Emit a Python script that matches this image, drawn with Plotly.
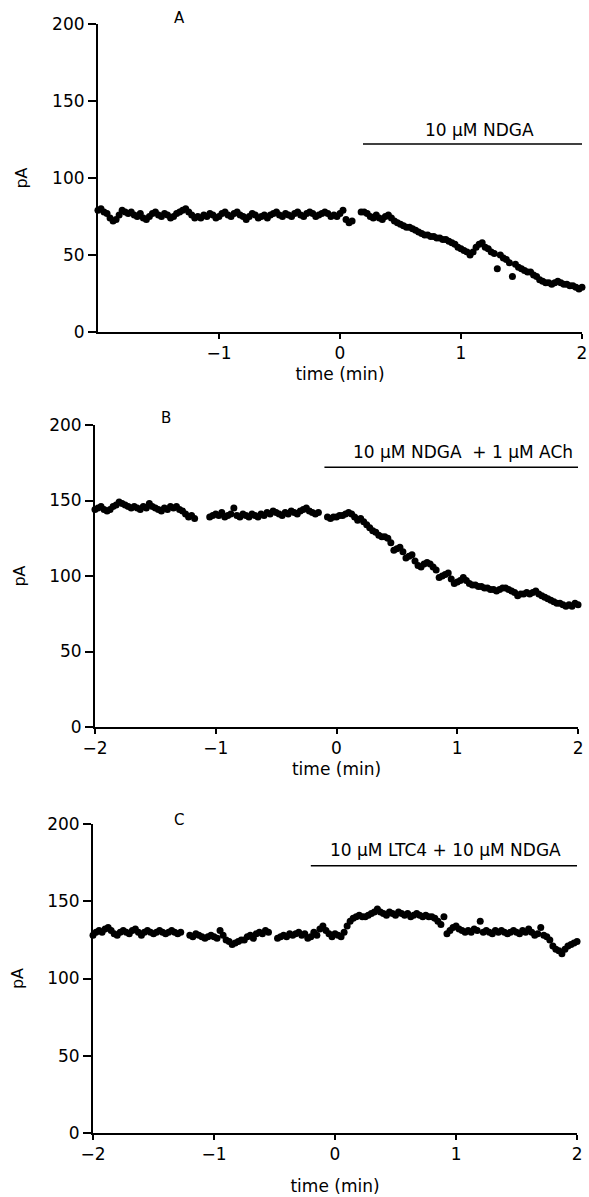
import numpy as np
import plotly.graph_objects as go

# Sampling times (min), one sample every 1.5 s
time_min = np.round(np.linspace(-2, 2, 161), 3)

# Panel A: 10 uM NDGA (pA)
current_A = [
    79, 80, 78, 77, 74, 72, 73, 76, 79, 78,
    77, 78, 76, 75, 77, 74, 73, 75, 77, 78,
    76, 75, 77, 76, 74, 75, 77, 78, 79, 80,
    78, 76, 74, 75, 74, 76, 75, 77, 76, 74,
    75, 77, 78, 76, 75, 77, 78, 76, 75, 73,
    75, 77, 76, 74, 75, 76, 74, 76, 77, 78,
    76, 75, 77, 76, 75, 77, 78, 76, 75, 77,
    78, 77, 75, 76, 77, 78, 77, 75, 76, 75,
    77, 79, 73, 71, 72, None, None, 78, 78, 77,
    75, 74, 76, 74, 73, 75, 76, 74, 72, 71,
    70, 69, 68, 68, 67, 66, 65, 64, 63, 63,
    62, 62, 61, 61, 60, 60, 59, 58, 57, 55,
    54, 53, 52, 50, 52, 55, 57, 58, 55, 54,
    52, 51, 41, 50, 48, 47, 45, 36, 44, 42,
    41, 40, 39, 39, 37, 36, 34, 33, 32, 32,
    31, 32, 33, 32, 31, 31, 30, 30, 29, 28,
    29,
]

# Panel B: 10 uM NDGA + 1 uM ACh (pA)
current_B = [
    144, 145, 146, 144, 143, 144, 146, 147, 149, 148,
    147, 146, 145, 146, 145, 144, 146, 145, 148, 146,
    145, 144, 143, 145, 144, 146, 145, 146, 144, 143,
    141, 139, 140, 138, None, None, None, None, 139, 140,
    141, 140, 142, 139, 140, 141, 145, 140, 139, 141,
    140, 139, 141, 140, 139, 141, 140, 142, 141, 143,
    142, 141, 140, 142, 141, 143, 142, 141, 143, 144,
    145, 143, 142, 141, 142, None, None, 139, 138, 139,
    139, 140, 140, 141, 142, 141, 139, 137, 138, 136,
    134, 132, 130, 129, 127, 126, 126, 125, 122, 117,
    118, 119, 116, 112, 113, 114, 110, 107, 106, 108,
    109, 108, 106, 104, 99, 100, 101, 102, 98, 95,
    96, 97, 99, 97, 95, 94, 94, 93, 93, 92,
    92, 91, 91, 90, 91, 92, 92, 91, 90, 89,
    87, 88, 88, 89, 88, 89, 90, 88, 87, 86,
    85, 84, 83, 82, 82, 81, 80, 81, 80, 82,
    81,
]

# Panel C: 10 uM LTC4 + 10 uM NDGA (pA)
current_C = [
    128, 130, 131, 130, 132, 133, 131, 129, 128, 130,
    131, 130, 129, 131, 132, 130, 128, 130, 131, 130,
    129, 130, 131, 130, 129, 130, 131, 130, 129, 130,
    None, None, 128, 127, 129, 128, 127, 126, 127, 128,
    127, 126, 131, 128, 125, 124, 122, 123, 124, 125,
    125, 127, 128, 126, 129, 130, 129, 131, 130, None,
    None, 126, 127, 128, 127, 129, 128, 129, 130, 128,
    129, 126, 127, 130, 128, 132, 134, 131, 129, 127,
    129, 128, 127, 130, 134, 137, 139, 140, 141, 140,
    140, 141, 142, 143, 145, 143, 142, 141, 143, 142,
    141, 143, 142, 141, 142, 140, 141, 142, 141, 140,
    141, 140, 140, 139, 137, 135, 140, 129, 131, 133,
    134, 132, 131, 130, 131, 130, 132, 131, 137, 130,
    131, 130, 129, 131, 130, 131, 130, 129, 130, 131,
    130, 129, 131, 130, 132, 130, 128, 129, 133, 128,
    127, 125, 121, 119, 118, 116, 119, 121, 122, 123,
    124,
]

panel_letters = ["A", "B", "C"]
drug_labels = ["10 μM NDGA", "10 μM NDGA  + 1 μM ACh", "10 μM LTC4 + 10 μM NDGA"]
drug_start = [0.19, -0.1, -0.2]
drug_bar_level = [122, 172, 173]
drug_text_x = [1.155, 1.05, 0.91]
drug_text_y = [131, 182, 183]
x_ticks_A = [-1, 0, 1, 2]
x_ticks_BC = [-2, -1, 0, 1, 2]
y_ticks = [0, 50, 100, 150, 200]

for arr in (current_A, current_B, current_C):
    assert len(arr) == len(time_min), len(arr)

FONT = "DejaVu Sans"
W, H = 589, 1197
ML, MR, MT, MB = 93, 2, 24, 64
PW = W - ML - MR
PH = H - MT - MB

def xdom(p0, p1):
    return [(p0 - ML) / PW, (p1 - ML) / PW]

def ydom(pbottom, ptop):
    return [(H - MB - pbottom) / PH, (H - MB - ptop) / PH]

x_domains = [xdom(98, 587), xdom(95, 583), xdom(93, 582)]
y_domains = [ydom(332, 24), ydom(727, 425), ydom(1133, 824)]
x_title_standoff = [6, 6, 17]
letter_px = [(180, 18), (167, 418), (180, 820)]

fig = go.Figure()
series = [current_A, current_B, current_C]
for i, vals in enumerate(series):
    sfx = "" if i == 0 else str(i + 1)
    fig.add_trace(go.Scatter(
        x=time_min, y=vals, mode="markers",
        marker=dict(color="black", size=7),
        xaxis="x" + sfx, yaxis="y" + sfx,
        cliponaxis=False, showlegend=False,
    ))

layout = dict(
    width=W, height=H,
    margin=dict(l=ML, r=MR, t=MT, b=MB),
    paper_bgcolor="white", plot_bgcolor="white",
    font=dict(family=FONT, color="black", size=17),
    showlegend=False,
)
for i in range(3):
    sfx = "" if i == 0 else str(i + 1)
    tv = x_ticks_A if i == 0 else x_ticks_BC
    layout["xaxis" + sfx] = dict(
        domain=x_domains[i], anchor="y" + sfx, range=[-2, 2],
        tickmode="array", tickvals=tv,
        ticktext=[("\u2212" + str(-v)) if v < 0 else str(v) for v in tv],
        ticks="outside", ticklen=5, tickwidth=1.5, tickcolor="black",
        showline=True, linecolor="black", linewidth=2,
        showgrid=False, zeroline=False,
        tickfont=dict(family=FONT, size=17, color="black"),
        title=dict(text="time (min)", standoff=x_title_standoff[i],
                   font=dict(family=FONT, size=17, color="black")),
    )
    layout["yaxis" + sfx] = dict(
        domain=y_domains[i], anchor="x" + sfx, range=[0, 200],
        tickmode="array", tickvals=y_ticks,
        ticks="outside", ticklen=8, tickwidth=1.5, tickcolor="black",
        showline=True, linecolor="black", linewidth=2,
        showgrid=False, zeroline=False,
        tickfont=dict(family=FONT, size=17, color="black"),
        title=dict(text="pA", standoff=20,
                   font=dict(family=FONT, size=16, color="black")),
    )
fig.update_layout(**layout)

for i in range(3):
    sfx = "" if i == 0 else str(i + 1)
    fig.add_shape(type="line", xref="x" + sfx, yref="y" + sfx,
                  x0=drug_start[i], x1=2, y0=drug_bar_level[i], y1=drug_bar_level[i],
                  line=dict(color="black", width=1.5))
    fig.add_annotation(xref="x" + sfx, yref="y" + sfx,
                       x=drug_text_x[i], y=drug_text_y[i], text=drug_labels[i],
                       showarrow=False, xanchor="center", yanchor="middle",
                       font=dict(family=FONT, size=17, color="black"))
    px, py = letter_px[i]
    fig.add_annotation(xref="paper", yref="paper",
                       x=(px - ML) / PW, y=(H - MB - py) / PH,
                       text=panel_letters[i], showarrow=False,
                       xanchor="center", yanchor="middle",
                       font=dict(family=FONT, size=15, color="black"))

fig.write_html(
    "out.html",
    config={"displayModeBar": False},
    post_script="document.body.style.margin='0';document.body.style.padding='0';"
                "document.documentElement.style.overflow='hidden';"
                "document.body.style.overflow='hidden';",
)
